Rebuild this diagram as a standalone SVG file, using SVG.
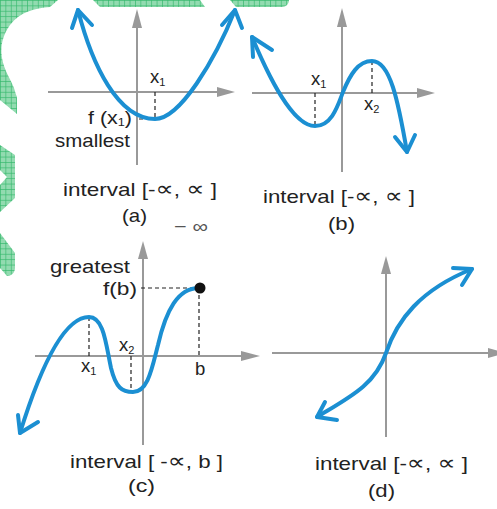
<svg xmlns="http://www.w3.org/2000/svg" width="497" height="509" viewBox="0 0 497 509">
<defs>
<pattern id="grid" width="5.4" height="5.4" patternUnits="userSpaceOnUse">
<rect width="5.4" height="5.4" fill="#92dbb0"/>
<path d="M0,0.4H5.4M0.4,0V5.4" stroke="#35b86c" stroke-width="0.7"/>
</pattern>
</defs>
<style>
.bg{fill:url(#grid)}
.ax{stroke:#999;stroke-width:2;fill:none}
.ah{fill:#999}
.cv{stroke:#1b8fd2;stroke-width:4;fill:none;stroke-linecap:round;stroke-linejoin:round}
.ds{stroke:#222;stroke-width:1.2;stroke-dasharray:4 3;fill:none}
text{font-family:"Liberation Sans",Arial,"DejaVu Sans",sans-serif;font-size:18.5px;fill:#222}
.sub{font-size:11px}
.pr{font-size:21px}
.neg{fill:#555;font-size:19px}
</style>
<rect width="497" height="509" fill="#fff"/>
<g id="decor">
<path class="bg" d="M0,0H58L50,7C35,8 20,12 10,25C3,35 0,45 2,58C4,70 10,78 14,88L17,98V114L0,100Z"/>
<path class="bg" d="M93,0H200L205,7H100Z"/>
<path class="bg" d="M230,0H289C289,4 286,7 282,7H236Z"/>
<path class="bg" d="M0,145L15,155V198L0,212V185L7,177L0,170Z"/>
<path class="bg" d="M0,233L15,253V268C15,273 11,276 7,276L0,268Z"/>
</g>
<g id="panel-a">
<line class="ax" x1="137" y1="26" x2="137" y2="165"/>
<polygon class="ah" points="137,9 132,28 142,28"/>
<line class="ax" x1="48" y1="92" x2="219" y2="92"/>
<polygon class="ah" points="235,92 217,87 217,97"/>
<path class="ds" d="M155,92V119M139,119H155"/>
<path class="cv" d="M78,10C92,65 118,119 155,119C180,119 215,60 235,10"/>
<path class="cv" d="M72,28L78,10L92,25M222,25L235,10L242,28"/>
<text x="150" y="83">x<tspan class="sub" dy="3">1</tspan></text>
<text x="88" y="124" textLength="44" lengthAdjust="spacingAndGlyphs">f (x<tspan class="sub" dy="2">1</tspan><tspan dy="-2">)</tspan></text>
<text x="55" y="147" textLength="75" lengthAdjust="spacingAndGlyphs">smallest</text>
<text x="63" y="196" textLength="154" lengthAdjust="spacingAndGlyphs">interval [-<tspan class="pr">∝</tspan>, <tspan class="pr">∝</tspan> ]</text>
<text x="122" y="222" textLength="25" lengthAdjust="spacingAndGlyphs">(a)</text>
<text class="neg" x="174" y="233" textLength="34" lengthAdjust="spacingAndGlyphs">− ∞</text>
</g>
<g id="panel-b">
<line class="ax" x1="342" y1="26" x2="342" y2="172"/>
<polygon class="ah" points="342,8 337,27 347,27"/>
<line class="ax" x1="252" y1="93" x2="419" y2="93"/>
<polygon class="ah" points="435,93 417,88 417,98"/>
<path class="ds" d="M315,93V126M372,61V93"/>
<path class="cv" d="M252,37C268,75 292,126 315,126C332,126 338,105 343,92C350,75 358,61 372,61C390,61 398,100 407,152"/>
<path class="cv" d="M253,57L252,37L272,50M395,137L407,152L415,135"/>
<text x="311" y="85">x<tspan class="sub" dy="3">1</tspan></text>
<text x="364" y="110">x<tspan class="sub" dy="3">2</tspan></text>
<text x="263" y="203" textLength="152" lengthAdjust="spacingAndGlyphs">interval [-<tspan class="pr">∝</tspan>, <tspan class="pr">∝</tspan> ]</text>
<text x="328" y="230" textLength="27" lengthAdjust="spacingAndGlyphs">(b)</text>
</g>
<g id="panel-c">
<line class="ax" x1="143" y1="258" x2="143" y2="445"/>
<polygon class="ah" points="143,241 138,259 148,259"/>
<line class="ax" x1="35" y1="356" x2="243" y2="356"/>
<polygon class="ah" points="260,356 241,351 241,361"/>
<path class="ds" d="M89,317V356M131,356V392M199,288V356M141,288H199"/>
<path class="cv" d="M20,433C38,375 62,317 89,317C104,317 106,345 111,368C116,388 122,392 133,392C148,392 152,368 158,345C166,310 178,288 199,288"/>
<path class="cv" d="M18,415L20,433L38,422"/>
<circle cx="200" cy="288" r="5.5" fill="#111"/>
<text x="50" y="273" textLength="80" lengthAdjust="spacingAndGlyphs">greatest</text>
<text x="103" y="295" textLength="34" lengthAdjust="spacingAndGlyphs">f(b)</text>
<text x="81" y="372">x<tspan class="sub" dy="3">1</tspan></text>
<text x="119" y="351">x<tspan class="sub" dy="3">2</tspan></text>
<text x="195" y="375">b</text>
<text x="70" y="468" textLength="153" lengthAdjust="spacingAndGlyphs">interval [ -<tspan class="pr">∝</tspan>, b ]</text>
<text x="128" y="492" textLength="27" lengthAdjust="spacingAndGlyphs">(c)</text>
</g>
<g id="panel-d">
<line class="ax" x1="386" y1="273" x2="386" y2="437"/>
<polygon class="ah" points="386,256 381,274 391,274"/>
<line class="ax" x1="272" y1="353" x2="490" y2="353"/>
<polygon class="ah" points="506,353 488,348 488,358"/>
<path class="cv" d="M317,417C350,397 375,385 386,353C397,320 420,290 472,269"/>
<path class="cv" d="M325,402L317,417L337,420M453,268L472,269L462,285"/>
<text x="315" y="470" textLength="153" lengthAdjust="spacingAndGlyphs">interval [-<tspan class="pr">∝</tspan>, <tspan class="pr">∝</tspan> ]</text>
<text x="368" y="497" textLength="27" lengthAdjust="spacingAndGlyphs">(d)</text>
</g>
</svg>
